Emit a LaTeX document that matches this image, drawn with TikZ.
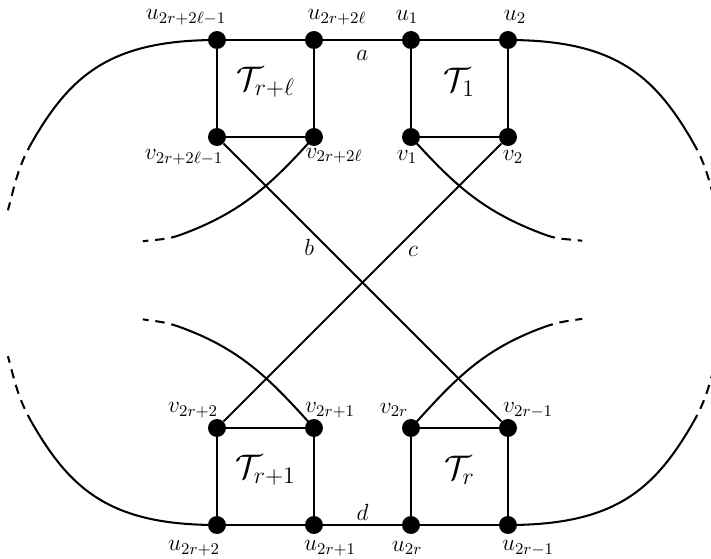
\documentclass[tikz,border=0pt]{standalone}
\usepackage{fix-cm}
\begin{document}
\begin{tikzpicture}[
    vert/.style={circle, fill=black, inner sep=0pt, minimum size=0.37cm},
    lab/.style={font=\fontsize{13.7}{16}\selectfont, inner sep=0pt},
    tlab/.style={font=\fontsize{20}{24}\selectfont, inner sep=0pt},
    edge/.style={line width=1.2pt},
    open/.style={line width=1.2pt, dash pattern=on 5.5pt off 4pt},
    outer/.style={out looseness=1.29, in looseness=0.94}]
        \clip (-7.474,-5.701) rectangle (7.186,5.825);

        % Top squares (T_{r+l} left, T_1 right)
        \node[vert] (u2rl1) at (-3,5) {};
        \node[vert] (u2rl) at (-1,5) {};
        \node[vert] (u1) at (1,5) {};
        \node[vert] (u2) at (3,5) {};
        \node[vert] (v2rl1) at (-3,3) {};
        \node[vert] (v2rl) at (-1,3) {};
        \node[vert] (v1) at (1,3) {};
        \node[vert] (v2) at (3,3) {};
        \draw[edge] (u2rl1) -- (u2rl) -- (u1) -- (u2);
        \draw[edge] (u2rl1) -- (v2rl1) -- (v2rl) -- (u2rl);
        \draw[edge] (u1) -- (v1) -- (v2) -- (u2);

        % Bottom squares (T_{r+1} left, T_r right)
        \node[vert] (v2r2) at (-3,-3) {};
        \node[vert] (v2r1) at (-1,-3) {};
        \node[vert] (v2r) at (1,-3) {};
        \node[vert] (v2rm1) at (3,-3) {};
        \node[vert] (u2r2) at (-3,-5) {};
        \node[vert] (u2r1) at (-1,-5) {};
        \node[vert] (u2r) at (1,-5) {};
        \node[vert] (u2rm1) at (3,-5) {};
        \draw[edge] (u2r2) -- (u2r1) -- (u2r) -- (u2rm1);
        \draw[edge] (u2r2) -- (v2r2) -- (v2r1) -- (u2r1);
        \draw[edge] (u2r) -- (v2r) -- (v2rm1) -- (u2rm1);

        % Crossing edges b and c
        \draw[edge] (v2rl1) -- (v2rm1);
        \draw[edge] (v2) -- (v2r2);

        % Outer open ends
        \coordinate (ol1) at (-6.81,2.9); \coordinate (ol2) at (-7.31,1.49);
        \coordinate (ol3) at (-6.81,-2.9); \coordinate (ol4) at (-7.31,-1.52);
        \coordinate (or1) at (6.81,2.9); \coordinate (or2) at (7.31,1.49);
        \coordinate (or3) at (6.81,-2.9); \coordinate (or4) at (7.31,-1.52);
        \draw[edge] (u2rl1.center) to[out=180,in=60,outer] (ol1);
        \draw[open] (ol1) to[out=240,in=75] (ol2);
        \draw[edge] (u2r2.center) to[out=180,in=-60,outer] (ol3);
        \draw[open] (ol3) to[out=120,in=-75] (ol4);
        \draw[edge] (u2.center) to[out=0,in=120,outer] (or1);
        \draw[open] (or1) to[out=-60,in=105] (or2);
        \draw[edge] (u2rm1.center) to[out=0,in=-120,outer] (or3);
        \draw[open] (or3) to[out=60,in=-105] (or4);

        % Inner open ends
        \coordinate (il1) at (-3.76,0.98); \coordinate (il2) at (-4.53,0.85);
        \coordinate (il3) at (-3.76,-0.92); \coordinate (il4) at (-4.53,-0.76);
        \coordinate (ir1) at (3.78,0.98); \coordinate (ir2) at (4.53,0.86);
        \coordinate (ir3) at (3.74,-0.92); \coordinate (ir4) at (4.53,-0.75);
        \draw[edge] (v2rl.center) to[out=228,in=20] (il1);
        \draw[open] (il1) to[out=200,in=8] (il2);
        \draw[edge] (v2r1.center) to[out=132,in=-20] (il3);
        \draw[open] (il3) to[out=160,in=-8] (il4);
        \draw[edge] (v1.center) to[out=-48,in=160] (ir1);
        \draw[open] (ir1) to[out=-20,in=172] (ir2);
        \draw[edge] (v2r.center) to[out=48,in=-160] (ir3);
        \draw[open] (ir3) to[out=20,in=-172] (ir4);

        % Square names
        \node[tlab] (tl) at (-2,4.12) {$\mathcal{T}_{r+\ell}$};
        \node[tlab] (tone) at (2,4.12) {$\mathcal{T}_1$};
        \node[tlab] (trone) at (-2,-3.88) {$\mathcal{T}_{r+1}$};
        \node[tlab] (tr) at (2,-3.88) {$\mathcal{T}_r$};

        % Edge names
        \node[lab] (la) at (0,4.69) {$a$};
        \node[lab] (lb) at (-1.10,0.73) {$b$};
        \node[lab] (lc) at (1.04,0.65) {$c$};
        \node[lab] (ld) at (0,-4.75) {$d$};

        % Vertex names
        \node[lab] (lu2rl1) at (-3.64,5.474) {$u_{2r+2\ell-1}$};
        \node[lab] (lu2rl) at (-0.526,5.474) {$u_{2r+2\ell}$};
        \node[lab] (lu1) at (0.918,5.474) {$u_1$};
        \node[lab] (lu2) at (3.144,5.474) {$u_2$};
        \node[lab] (lv2rl1) at (-3.68,2.588) {$v_{2r+2\ell-1}$};
        \node[lab] (lv2rl) at (-0.588,2.61) {$v_{2r+2\ell}$};
        \node[lab] (lv1) at (0.918,2.588) {$v_1$};
        \node[lab] (lv2) at (3.103,2.588) {$v_2$};
        \node[lab] (lv2r2) at (-3.495,-2.629) {$v_{2r+2}$};
        \node[lab] (lv2r1) at (-0.67,-2.629) {$v_{2r+1}$};
        \node[lab] (lv2r) at (0.649,-2.629) {$v_{2r}$};
        \node[lab] (lv2rm1) at (3.412,-2.629) {$v_{2r-1}$};
        \node[lab] (lu2r2) at (-3.474,-5.474) {$u_{2r+2}$};
        \node[lab] (lu2r1) at (-0.67,-5.474) {$u_{2r+1}$};
        \node[lab] (lu2r) at (0.918,-5.474) {$u_{2r}$};
        \node[lab] (lu2rm1) at (3.412,-5.474) {$u_{2r-1}$};
\end{tikzpicture}
\end{document}
